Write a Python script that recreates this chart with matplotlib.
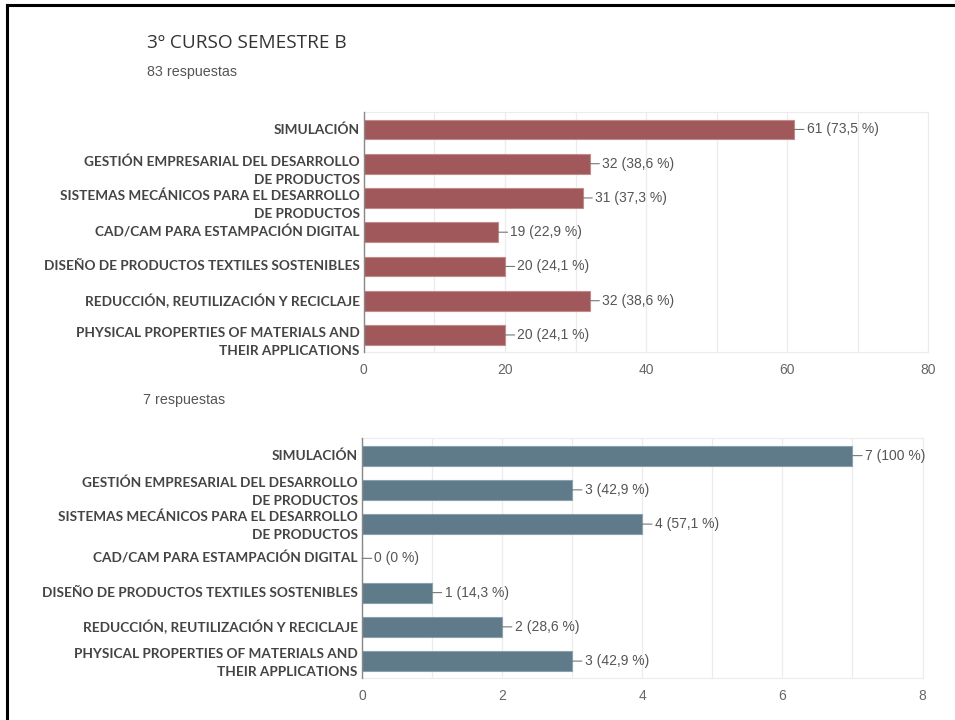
import matplotlib.pyplot as plt
from matplotlib.ticker import MultipleLocator
from matplotlib.transforms import ScaledTranslation

# ------------------------------------
# DATA
# ------------------------------------
categories = [
    "SIMULACIÓN",
    "GESTIÓN EMPRESARIAL DEL DESARROLLO\nDE PRODUCTOS",
    "SISTEMAS MECÁNICOS PARA EL DESARROLLO\nDE PRODUCTOS",
    "CAD/CAM PARA ESTAMPACIÓN DIGITAL",
    "DISEÑO DE PRODUCTOS TEXTILES SOSTENIBLES",
    "REDUCCIÓN, REUTILIZACIÓN Y RECICLAJE",
    "PHYSICAL PROPERTIES OF MATERIALS AND\nTHEIR APPLICATIONS",
]

counts_top = [61, 32, 31, 19, 20, 32, 20]
pct_top = ["73,5", "38,6", "37,3", "22,9", "24,1", "38,6", "24,1"]
total_top = 83

counts_bot = [7, 3, 4, 0, 1, 2, 3]
pct_bot = ["100", "42,9", "57,1", "0", "14,3", "28,6", "42,9"]
total_bot = 7

title = "3º CURSO SEMESTRE B"

# ------------------------------------
# HELPERS
# ------------------------------------
def draw_panel(fig, ax, counts, pcts, color, edge, xmax, major, minor, two_line_shift):
    y = list(range(len(categories)))
    ax.barh(y, counts, height=0.58, color=color, edgecolor=edge, linewidth=0.8, zorder=3)
    for yi, c, p in zip(y, counts, pcts):
        ax.annotate(f"{c} ({p} %)", xy=(c, yi), xytext=(9, 0), textcoords='offset points',
                    va='center', ha='left', fontsize=10, color='#555555', family='Liberation Sans',
                    arrowprops=dict(arrowstyle='-', color='#777777', lw=0.8, shrinkA=0, shrinkB=0))

    # category labels (two-line labels sit a bit lower than the bar, as in the original)
    for yi, lab in zip(y, categories):
        dy = -two_line_shift / 72 if '\n' in lab else 0
        tr = ax.get_yaxis_transform() + ScaledTranslation(-3 / 72, dy, fig.dpi_scale_trans)
        ax.text(0, yi, lab, transform=tr, ha='right', va='center', multialignment='right',
                fontsize=9.8, fontweight='bold', color='#444444', family='Lato', linespacing=1.6)

    ax.set_xlim(0, xmax)
    ax.set_ylim(6.5, -0.5)
    ax.set_yticks(y)
    ax.set_yticklabels([])
    ax.tick_params(axis='y', length=0)
    ax.xaxis.set_major_locator(MultipleLocator(major))
    ax.xaxis.set_minor_locator(MultipleLocator(minor))
    ax.tick_params(axis='x', which='both', length=0, pad=8, labelsize=10, labelcolor='#666666')
    for lbl in ax.get_xticklabels():
        lbl.set_family('Liberation Sans')
    ax.grid(True, axis='x', which='both', color='#ececec', linewidth=0.9, zorder=0)
    for side in ['top', 'right', 'bottom']:
        ax.spines[side].set_color('#ececec')
    ax.spines['left'].set_color('#888888')
    ax.spines['left'].set_linewidth(1.0)
    ax.spines['left'].set_zorder(4)


# ------------------------------------
# FIGURE
# ------------------------------------
fig = plt.figure(figsize=(9.55, 7.2), dpi=100)

ax_top = fig.add_axes([0.381, 0.511, 0.591, 0.333])
draw_panel(fig, ax_top, counts_top, pct_top, '#a0585a', '#c48a8a', 80, 20, 10, 5)

ax_bot = fig.add_axes([0.379, 0.058, 0.587, 0.333])
draw_panel(fig, ax_bot, counts_bot, pct_bot, '#5f7a88', '#8aa0ac', 8, 2, 1, 1.5)

fig.text(147 / 955, 1 - 43 / 720, title, fontsize=13.7, color='#333333',
         family='Open Sans', va='center', ha='left')
fig.text(147 / 955, 1 - 72 / 720, f"{total_top} respuestas", fontsize=10.3, color='#555555',
         family='Liberation Sans', va='center', ha='left')
fig.text(143 / 955, 1 - 400 / 720, f"{total_bot} respuestas", fontsize=10.3, color='#555555',
         family='Liberation Sans', va='center', ha='left')

# frame lines of the screenshot crop
fig.add_artist(plt.Line2D([7 / 955, 7 / 955], [0, 1 - 5 / 720], transform=fig.transFigure,
                          color='black', linewidth=2.2))
fig.add_artist(plt.Line2D([7 / 955, 1], [1 - 5 / 720, 1 - 5 / 720], transform=fig.transFigure,
                          color='black', linewidth=2.2))

fig.savefig('out.png', dpi=100)
